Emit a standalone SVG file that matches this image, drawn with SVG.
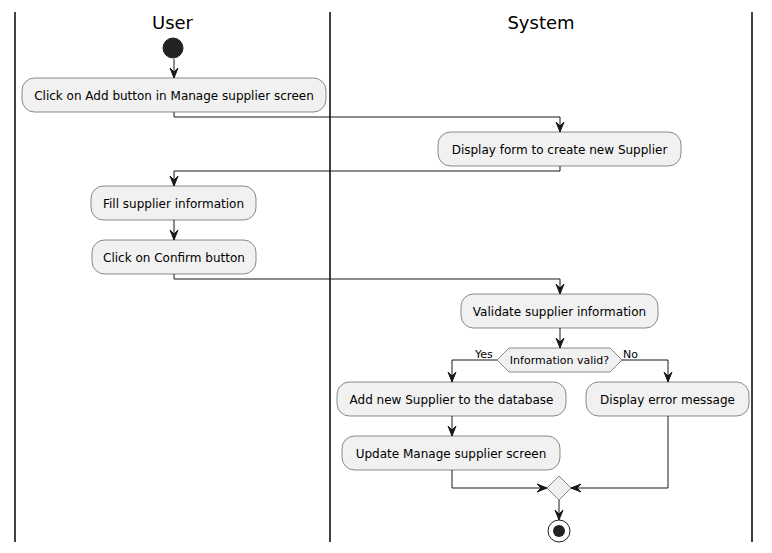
<svg xmlns="http://www.w3.org/2000/svg" width="772" height="553" viewBox="0 0 772 553">
  <style>
    .lane { stroke: #000000; stroke-width: 1.5; }
    .title { font-family: "DejaVu Sans", sans-serif; font-size: 18px; fill: #000000; text-anchor: middle; }
    .act rect { fill: #F1F1F1; stroke: #181818; stroke-width: 0.5; }
    .act text { font-family: "DejaVu Sans", sans-serif; font-size: 12px; fill: #000000; text-anchor: middle; }
    .dec polygon { fill: #F1F1F1; stroke: #181818; stroke-width: 0.5; }
    .dec text { font-family: "DejaVu Sans", sans-serif; font-size: 11px; fill: #000000; text-anchor: middle; }
    .lbl { font-family: "DejaVu Sans", sans-serif; font-size: 11px; fill: #000000; }
    .edge { fill: none; stroke: #181818; stroke-width: 1; }
    .head { fill: #181818; stroke: #181818; stroke-width: 1; }
  </style>

  <rect width="772" height="553" fill="#FFFFFF"/>

  <!-- swimlanes -->
  <g id="lanes">
    <line class="lane" x1="15" y1="12" x2="15" y2="542"/>
    <line class="lane" x1="330" y1="12" x2="330" y2="542"/>
    <line class="lane" x1="752" y1="12" x2="752" y2="542"/>
    <text class="title" x="172.5" y="29">User</text>
    <text class="title" x="541" y="29">System</text>
  </g>

  <!-- connectors -->
  <g id="connectors">
    <path class="edge" d="M174,59 V78"/>
    <polygon class="head" points="170,68 174,78 178,68 174,72"/>

    <path class="edge" d="M174,112 V117 H560 V132"/>
    <polygon class="head" points="556,122 560,132 564,122 560,126"/>

    <path class="edge" d="M560,166 V171 H174 V186"/>
    <polygon class="head" points="170,176 174,186 178,176 174,180"/>

    <path class="edge" d="M174,220 V240"/>
    <polygon class="head" points="170,230 174,240 178,230 174,234"/>

    <path class="edge" d="M174,274 V279 H560 V294"/>
    <polygon class="head" points="556,284 560,294 564,284 560,288"/>

    <path class="edge" d="M560,328 V348"/>
    <polygon class="head" points="556,338 560,348 564,338 560,342"/>

    <path class="edge" d="M497,360 H452 V382"/>
    <polygon class="head" points="448,372 452,382 456,372 452,376"/>
    <text class="lbl" x="475" y="358">Yes</text>

    <path class="edge" d="M622,360 H668 V382"/>
    <polygon class="head" points="664,372 668,382 672,372 668,376"/>
    <text class="lbl" x="623" y="358">No</text>

    <path class="edge" d="M452,416 V436"/>
    <polygon class="head" points="448,426 452,436 456,426 452,430"/>

    <path class="edge" d="M452,470 V488 H547"/>
    <polygon class="head" points="537,484 547,488 537,492 541,488"/>

    <path class="edge" d="M668,416 V488 H571"/>
    <polygon class="head" points="581,484 571,488 581,492 577,488"/>

    <path class="edge" d="M559,500 V520"/>
    <polygon class="head" points="555,510 559,520 563,510 559,514"/>
  </g>

  <!-- nodes -->
  <g id="start">
    <circle cx="173" cy="48" r="10" fill="#222222" stroke="#222222" stroke-width="1"/>
  </g>

  <g id="click-add" class="act">
    <rect x="22" y="78" width="304" height="34" rx="12.5"/>
    <text x="174" y="100">Click on Add button in Manage supplier screen</text>
  </g>

  <g id="display-form" class="act">
    <rect x="438" y="132" width="243" height="34" rx="12.5"/>
    <text x="559.5" y="154">Display form to create new Supplier</text>
  </g>

  <g id="fill-info" class="act">
    <rect x="91" y="186" width="165" height="34" rx="12.5"/>
    <text x="173.5" y="208">Fill supplier information</text>
  </g>

  <g id="click-confirm" class="act">
    <rect x="92" y="240" width="164" height="34" rx="12.5"/>
    <text x="174" y="262">Click on Confirm button</text>
  </g>

  <g id="validate" class="act">
    <rect x="461" y="294" width="197" height="34" rx="12.5"/>
    <text x="559.5" y="316">Validate supplier information</text>
  </g>

  <g id="valid-check" class="dec">
    <polygon points="497,360 509,348 610,348 622,360 610,372 509,372"/>
    <text x="559.5" y="364">Information valid?</text>
  </g>

  <g id="add-supplier" class="act">
    <rect x="337" y="382" width="229" height="34" rx="12.5"/>
    <text x="451.5" y="404">Add new Supplier to the database</text>
  </g>

  <g id="error-message" class="act">
    <rect x="586" y="382" width="163" height="34" rx="12.5"/>
    <text x="667.5" y="404">Display error message</text>
  </g>

  <g id="update-screen" class="act">
    <rect x="342" y="436" width="218" height="34" rx="12.5"/>
    <text x="451" y="458">Update Manage supplier screen</text>
  </g>

  <g id="merge" class="dec">
    <polygon points="547,488 559,476 571,488 559,500"/>
  </g>

  <g id="end">
    <circle cx="559" cy="531" r="11" fill="none" stroke="#222222" stroke-width="1"/>
    <circle cx="559" cy="531" r="6" fill="#222222"/>
  </g>
</svg>
